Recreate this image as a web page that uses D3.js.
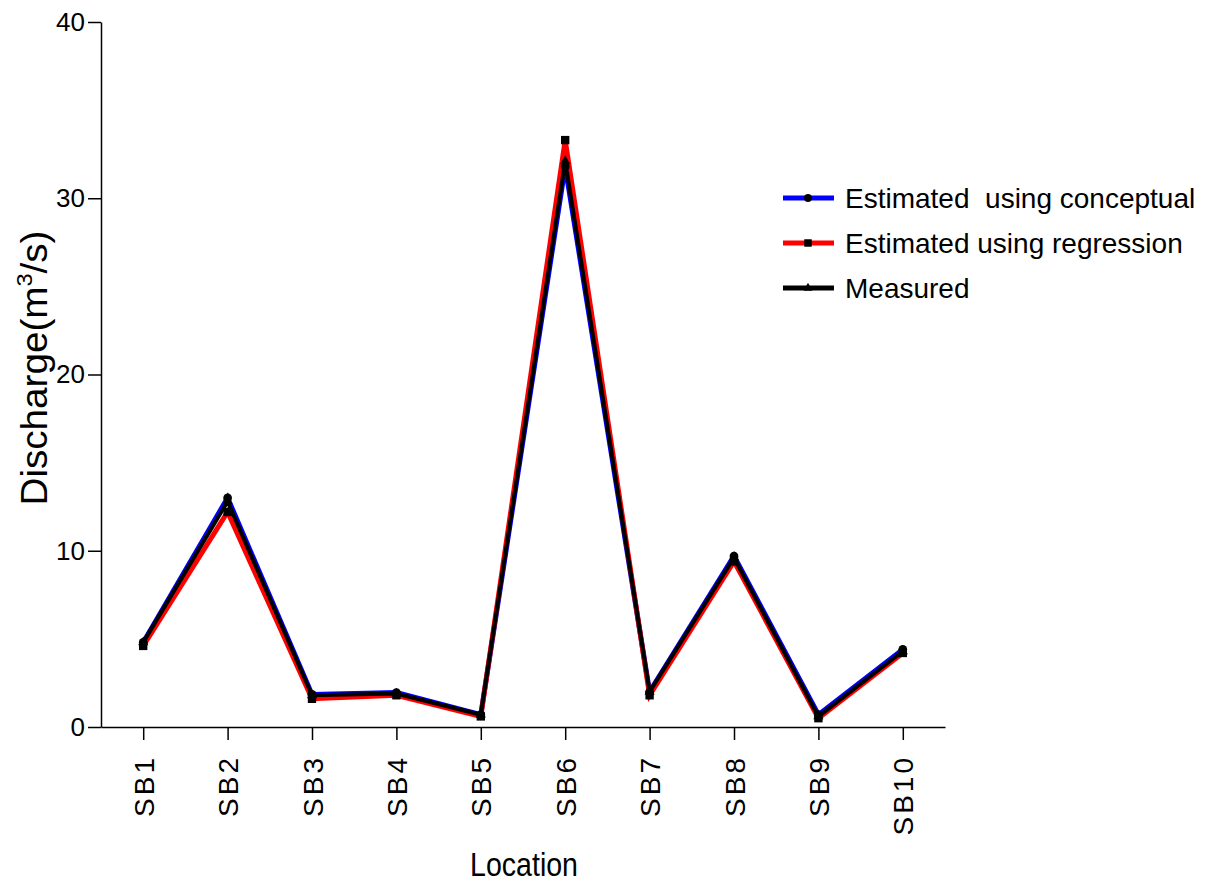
<!DOCTYPE html>
<html><head><meta charset="utf-8">
<script src="https://cdn.jsdelivr.net/npm/d3@7"></script>
<style>body{margin:0;background:#fff}svg{font-family:"Liberation Sans",Arial,sans-serif}</style>
</head><body><svg id="c" width="1217" height="882"></svg>
<script>
const categories = ["SB1","SB2","SB3","SB4","SB5","SB6","SB7","SB8","SB9","SB10"];
const conceptual = [4.8, 13.0, 1.85, 1.95, 0.7, 31.8, 2.0, 9.7, 0.7, 4.4];
const regression = [4.6, 12.2, 1.6, 1.8, 0.6, 33.3, 1.8, 9.4, 0.5, 4.2];
const measured   = [4.8, 12.8, 1.8, 1.9, 0.7, 32.1, 2.0, 9.6, 0.6, 4.3];
const yTicks = [0, 10, 20, 30, 40];
const seriesNames = ["Estimated  using conceptual", "Estimated using regression", "Measured"];

const svg = d3.select("#c");
const x = d3.scalePoint().domain(categories).range([101, 945]).padding(0.5);
const y = d3.scaleLinear().domain([0, 40]).range([727, 22]);

const gx = svg.append("g").attr("transform","translate(0,727)")
  .call(d3.axisBottom(x).tickSize(13).tickSizeOuter(0));
gx.attr("font-size", null).attr("font-family", null);
gx.select(".domain").attr("stroke","#000").attr("stroke-width",1.5);
gx.selectAll(".tick line").attr("stroke","#000").attr("stroke-width",1.5);
gx.selectAll(".tick text").style("font-size","28px").style("letter-spacing","3px").attr("fill","#000")
  .attr("transform","rotate(-90)").attr("text-anchor","end")
  .attr("x",-28).attr("y",0).attr("dy","0.36em");

const gy = svg.append("g").attr("transform","translate(101,0)")
  .call(d3.axisLeft(y).tickValues(yTicks).tickSize(13).tickSizeOuter(0).tickPadding(3));
gy.attr("font-size", null).attr("font-family", null);
gy.select(".domain").attr("stroke","#000").attr("stroke-width",1.5);
gy.selectAll(".tick line").attr("stroke","#000").attr("stroke-width",1.5);
gy.selectAll(".tick text").style("font-size","26px").attr("fill","#000");

const series = [
  {vals: conceptual, color:"#0000ff", shape: d3.symbolCircle, size: 60},
  {vals: regression, color:"#ff0000", shape: d3.symbolSquare, size: 70},
  {vals: measured, color:"#000000", shape: d3.symbolTriangle, size: 45}
];
const line = d3.line().x((d,i)=>x(categories[i])).y(d=>y(d));
series.forEach((s,k)=>{
  svg.append("path").datum(s.vals).attr("d", line).attr("fill","none")
    .attr("stroke", s.color).attr("stroke-width", k===2 ? 4 : 5).attr("stroke-linejoin","miter");
});
series.forEach(s=>{
  svg.append("g").selectAll("path").data(s.vals).join("path")
    .attr("transform",(d,i)=>`translate(${x(categories[i])},${y(d)})`)
    .attr("d", d3.symbol().type(s.shape).size(s.size)).attr("fill","#000");
});

// legend
const lg = svg.append("g");
series.forEach((s,i)=>{
  const yy = 198 + i*45;
  lg.append("line").attr("x1",783).attr("x2",834).attr("y1",yy).attr("y2",yy)
    .attr("stroke",s.color).attr("stroke-width",5);
  lg.append("path").attr("transform",`translate(808,${yy})`)
    .attr("d", d3.symbol().type(s.shape).size(s.size*0.8)).attr("fill","#000");
  lg.append("text").attr("x",845).attr("y",yy).attr("dy","0.36em")
    .style("font-size","28px").style("white-space","pre").attr("fill","#000").text(seriesNames[i]);
});

// axis titles
const yt = svg.append("text").attr("transform","translate(47,368) rotate(-90)")
  .attr("text-anchor","middle").style("font-size","36px").attr("fill","#000")
  .attr("textLength",275).attr("lengthAdjust","spacingAndGlyphs");
yt.append("tspan").text("Discharge(m");
yt.append("tspan").style("font-size","22px").attr("dy",-15).text("3");
yt.append("tspan").attr("dy",15).text("/s)");
svg.append("text").attr("x",524).attr("y",876).attr("text-anchor","middle")
  .style("font-size","33px").attr("fill","#000")
  .attr("textLength",108).attr("lengthAdjust","spacingAndGlyphs").text("Location");
</script></body></html>
